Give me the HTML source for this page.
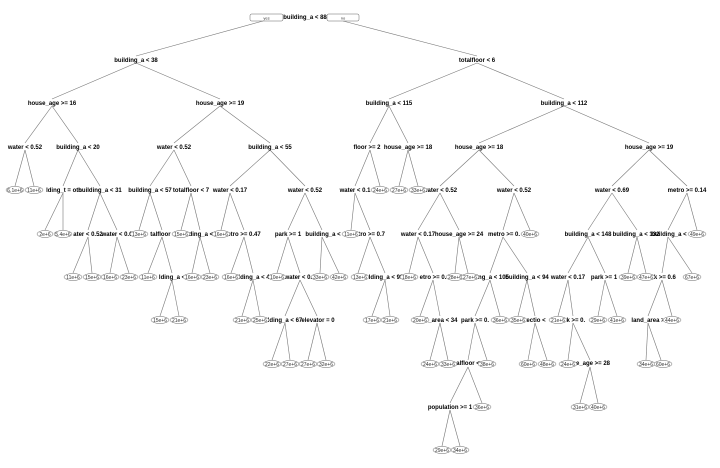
<!DOCTYPE html>
<html><head><meta charset="utf-8"><style>
html,body{margin:0;padding:0;background:#fff;width:720px;height:468px;overflow:hidden}
svg text{font-family:"Liberation Sans",sans-serif}
.n{font-size:6px;font-weight:bold;fill:#000;text-anchor:middle}
.l{font-size:5px;fill:#333;text-anchor:middle}
line{stroke:#777;stroke-width:0.6}
ellipse{fill:#fff;stroke:#666;stroke-width:0.5}
</style></head><body>
<svg width="720" height="468" viewBox="0 0 720 468" xmlns="http://www.w3.org/2000/svg">
<g>
<line x1="263" y1="21" x2="136" y2="56"/><line x1="343" y1="21" x2="477" y2="56"/>
<line x1="136" y1="63" x2="52" y2="99"/><line x1="136" y1="63" x2="220" y2="99"/>
<line x1="477" y1="63" x2="389" y2="99"/><line x1="477" y1="63" x2="564" y2="99"/>
<line x1="52" y1="106" x2="25" y2="143"/><line x1="52" y1="106" x2="78" y2="143"/>
<line x1="220" y1="106" x2="174" y2="143"/><line x1="220" y1="106" x2="270" y2="143"/>
<line x1="389" y1="106" x2="370" y2="143"/><line x1="389" y1="106" x2="408" y2="143"/>
<line x1="564" y1="106" x2="479" y2="143"/><line x1="564" y1="106" x2="649" y2="143"/>
<line x1="25" y1="150" x2="15" y2="186"/><line x1="25" y1="150" x2="34" y2="186"/>
<line x1="78" y1="150" x2="63" y2="186"/><line x1="78" y1="150" x2="100" y2="186"/>
<line x1="174" y1="150" x2="150" y2="186"/><line x1="174" y1="150" x2="191" y2="186"/>
<line x1="270" y1="150" x2="230" y2="186"/><line x1="270" y1="150" x2="305" y2="186"/>
<line x1="370" y1="150" x2="355" y2="186"/><line x1="370" y1="150" x2="380" y2="186"/>
<line x1="408" y1="150" x2="399" y2="186"/><line x1="408" y1="150" x2="418" y2="186"/>
<line x1="479" y1="150" x2="440" y2="186"/><line x1="479" y1="150" x2="514" y2="186"/>
<line x1="649" y1="150" x2="612" y2="186"/><line x1="649" y1="150" x2="687" y2="186"/>
<line x1="63" y1="193" x2="45" y2="230"/><line x1="63" y1="193" x2="63" y2="230"/>
<line x1="100" y1="193" x2="88" y2="230"/><line x1="100" y1="193" x2="117" y2="230"/>
<line x1="150" y1="193" x2="139" y2="230"/><line x1="150" y1="193" x2="162" y2="230"/>
<line x1="191" y1="193" x2="181" y2="230"/><line x1="191" y1="193" x2="200" y2="230"/>
<line x1="230" y1="193" x2="221" y2="230"/><line x1="230" y1="193" x2="244" y2="230"/>
<line x1="305" y1="193" x2="288" y2="230"/><line x1="305" y1="193" x2="322" y2="230"/>
<line x1="355" y1="193" x2="351" y2="230"/><line x1="355" y1="193" x2="370" y2="230"/>
<line x1="440" y1="193" x2="418" y2="230"/><line x1="440" y1="193" x2="459" y2="230"/>
<line x1="514" y1="193" x2="503" y2="230"/><line x1="514" y1="193" x2="530" y2="230"/>
<line x1="612" y1="193" x2="588" y2="230"/><line x1="612" y1="193" x2="637" y2="230"/>
<line x1="687" y1="193" x2="668" y2="230"/><line x1="687" y1="193" x2="697" y2="230"/>
<line x1="88" y1="237" x2="73" y2="273"/><line x1="88" y1="237" x2="92" y2="273"/>
<line x1="117" y1="237" x2="110" y2="273"/><line x1="117" y1="237" x2="129" y2="273"/>
<line x1="162" y1="237" x2="148" y2="273"/><line x1="162" y1="237" x2="172" y2="273"/>
<line x1="200" y1="237" x2="192" y2="273"/><line x1="200" y1="237" x2="210" y2="273"/>
<line x1="244" y1="237" x2="231" y2="273"/><line x1="244" y1="237" x2="253" y2="273"/>
<line x1="288" y1="237" x2="277" y2="273"/><line x1="288" y1="237" x2="300" y2="273"/>
<line x1="322" y1="237" x2="320" y2="273"/><line x1="322" y1="237" x2="339" y2="273"/>
<line x1="370" y1="237" x2="358" y2="273"/><line x1="370" y1="237" x2="385" y2="273"/>
<line x1="418" y1="237" x2="409" y2="273"/><line x1="418" y1="237" x2="433" y2="273"/>
<line x1="459" y1="237" x2="455" y2="273"/><line x1="459" y1="237" x2="468" y2="273"/>
<line x1="503" y1="237" x2="490" y2="273"/><line x1="503" y1="237" x2="527" y2="273"/>
<line x1="588" y1="237" x2="568" y2="273"/><line x1="588" y1="237" x2="605" y2="273"/>
<line x1="637" y1="237" x2="628" y2="273"/><line x1="637" y1="237" x2="646" y2="273"/>
<line x1="668" y1="237" x2="662" y2="273"/><line x1="668" y1="237" x2="692" y2="273"/>
<line x1="172" y1="280" x2="160" y2="316"/><line x1="172" y1="280" x2="179" y2="316"/>
<line x1="253" y1="280" x2="242" y2="316"/><line x1="253" y1="280" x2="260" y2="316"/>
<line x1="300" y1="280" x2="285" y2="316"/><line x1="300" y1="280" x2="317" y2="316"/>
<line x1="385" y1="280" x2="372" y2="316"/><line x1="385" y1="280" x2="390" y2="316"/>
<line x1="433" y1="280" x2="420" y2="316"/><line x1="433" y1="280" x2="440" y2="316"/>
<line x1="490" y1="280" x2="475" y2="316"/><line x1="490" y1="280" x2="500" y2="316"/>
<line x1="527" y1="280" x2="518" y2="316"/><line x1="527" y1="280" x2="535" y2="316"/>
<line x1="568" y1="280" x2="558" y2="316"/><line x1="568" y1="280" x2="573" y2="316"/>
<line x1="605" y1="280" x2="598" y2="316"/><line x1="605" y1="280" x2="617" y2="316"/>
<line x1="662" y1="280" x2="648" y2="316"/><line x1="662" y1="280" x2="672" y2="316"/>
<line x1="285" y1="323" x2="272" y2="360"/><line x1="285" y1="323" x2="290" y2="360"/>
<line x1="317" y1="323" x2="308" y2="360"/><line x1="317" y1="323" x2="326" y2="360"/>
<line x1="440" y1="323" x2="430" y2="360"/><line x1="440" y1="323" x2="448" y2="360"/>
<line x1="475" y1="323" x2="468" y2="360"/><line x1="475" y1="323" x2="487" y2="360"/>
<line x1="535" y1="323" x2="528" y2="360"/><line x1="535" y1="323" x2="547" y2="360"/>
<line x1="573" y1="323" x2="568" y2="360"/><line x1="573" y1="323" x2="590" y2="360"/>
<line x1="648" y1="323" x2="646" y2="360"/><line x1="648" y1="323" x2="661" y2="360"/>
<line x1="468" y1="367" x2="450" y2="403"/><line x1="468" y1="367" x2="482" y2="403"/>
<line x1="590" y1="367" x2="580" y2="403"/><line x1="590" y1="367" x2="598" y2="403"/>
<line x1="450" y1="410" x2="442" y2="446"/><line x1="450" y1="410" x2="460" y2="446"/>
</g>
<rect x="250" y="14" width="33" height="7" rx="1.5" fill="#fff" stroke="#666" stroke-width="0.5"/>
<text x="266.5" y="19.5" class="l" style="font-size:4px">yes</text>
<rect x="327" y="14" width="32" height="7" rx="1.5" fill="#fff" stroke="#666" stroke-width="0.5"/>
<text x="343" y="19.5" class="l" style="font-size:4px">no</text>
<g>
<text x="305" y="19" class="n">building_a &lt; 88</text>
<text x="136" y="62" class="n">building_a &lt; 38</text>
<text x="477" y="62" class="n">totalfloor &lt; 6</text>
<text x="52" y="105" class="n">house_age &gt;= 16</text>
<text x="220" y="105" class="n">house_age &gt;= 19</text>
<text x="389" y="105" class="n">building_a &lt; 115</text>
<text x="564" y="105" class="n">building_a &lt; 112</text>
<text x="25" y="149" class="n">water &lt; 0.52</text>
<text x="78" y="149" class="n">building_a &lt; 20</text>
<text x="174" y="149" class="n">water &lt; 0.52</text>
<text x="270" y="149" class="n">building_a &lt; 55</text>
<text x="367" y="149" class="n">floor &gt;= 2</text>
<text x="408" y="149" class="n">house_age &gt;= 18</text>
<text x="479" y="149" class="n">house_age &gt;= 18</text>
<text x="649" y="149" class="n">house_age &gt;= 19</text>
<text x="64" y="192" class="n">lding_t = oth</text>
<text x="100" y="192" class="n">building_a &lt; 31</text>
<text x="150" y="192" class="n">building_a &lt; 57</text>
<text x="191" y="192" class="n">totalfloor &lt; 7</text>
<text x="230" y="192" class="n">water &lt; 0.17</text>
<text x="305" y="192" class="n">water &lt; 0.52</text>
<text x="355" y="192" class="n">water &lt; 0.1</text>
<text x="440" y="192" class="n">water &lt; 0.52</text>
<text x="514" y="192" class="n">water &lt; 0.52</text>
<text x="612" y="192" class="n">water &lt; 0.69</text>
<text x="687" y="192" class="n">metro &gt;= 0.14</text>
<text x="88" y="236" class="n">ater &lt; 0.52</text>
<text x="117" y="236" class="n">water &lt; 0.6</text>
<text x="163" y="236" class="n">talfloor &lt;</text>
<text x="200" y="236" class="n">lding_a &lt;</text>
<text x="244" y="236" class="n">etro &gt;= 0.47</text>
<text x="288" y="236" class="n">park &gt;= 1</text>
<text x="323" y="236" class="n">building_a &lt;</text>
<text x="370" y="236" class="n">etro &gt;= 0.7</text>
<text x="418" y="236" class="n">water &lt; 0.17</text>
<text x="459" y="236" class="n">house_age &gt;= 24</text>
<text x="504" y="236" class="n">metro &gt;= 0.</text>
<text x="588" y="236" class="n">building_a &lt; 148</text>
<text x="636" y="236" class="n">building_a &lt; 132</text>
<text x="669" y="236" class="n">building_a &lt;</text>
<text x="172" y="279" class="n">lding_a &lt;</text>
<text x="254" y="279" class="n">lding_a &lt; 4</text>
<text x="300" y="279" class="n">water &lt; 0.2</text>
<text x="386" y="279" class="n">lding_a &lt; 99</text>
<text x="433" y="279" class="n">etro &gt;= 0.</text>
<text x="490" y="279" class="n">lding_a &lt; 105</text>
<text x="527" y="279" class="n">building_a &lt; 94</text>
<text x="568" y="279" class="n">water &lt; 0.17</text>
<text x="604" y="279" class="n">park &gt;= 1</text>
<text x="662" y="279" class="n">ark &gt;= 0.6</text>
<text x="285" y="322" class="n">lding_a &lt; 67</text>
<text x="318" y="322" class="n">elevator = 0</text>
<text x="441" y="322" class="n">d_area &lt; 34</text>
<text x="475" y="322" class="n">park &gt;= 0.</text>
<text x="536" y="322" class="n">ectio &lt;</text>
<text x="573" y="322" class="n">ark &gt;= 0.</text>
<text x="648" y="322" class="n">land_area &gt;</text>
<text x="468" y="365" class="n">alfloor &lt;</text>
<text x="593" y="365" class="n">e_age &gt;= 28</text>
<text x="450" y="409" class="n">population &gt;= 1</text>
</g>
<g>
<ellipse cx="15" cy="190" rx="9" ry="3.5"/><text x="15" y="191.8" class="l">6.1e+6</text>
<ellipse cx="34" cy="190" rx="9" ry="3.5"/><text x="34" y="191.8" class="l">11e+6</text>
<ellipse cx="380" cy="190" rx="9" ry="3.5"/><text x="380" y="191.8" class="l">24e+6</text>
<ellipse cx="399" cy="190" rx="9" ry="3.5"/><text x="399" y="191.8" class="l">27e+6</text>
<ellipse cx="418" cy="190" rx="9" ry="3.5"/><text x="418" y="191.8" class="l">33e+6</text>
<ellipse cx="45" cy="234" rx="8" ry="3.5"/><text x="45" y="235.8" class="l">2e+6</text>
<ellipse cx="63" cy="234" rx="9" ry="3.5"/><text x="63" y="235.8" class="l">5.4e+6</text>
<ellipse cx="139" cy="234" rx="9" ry="3.5"/><text x="139" y="235.8" class="l">13e+6</text>
<ellipse cx="181" cy="234" rx="9" ry="3.5"/><text x="181" y="235.8" class="l">15e+6</text>
<ellipse cx="221" cy="234" rx="9" ry="3.5"/><text x="221" y="235.8" class="l">16e+6</text>
<ellipse cx="351" cy="234" rx="9" ry="3.5"/><text x="351" y="235.8" class="l">11e+6</text>
<ellipse cx="530" cy="234" rx="9" ry="3.5"/><text x="530" y="235.8" class="l">40e+6</text>
<ellipse cx="697" cy="234" rx="9" ry="3.5"/><text x="697" y="235.8" class="l">49e+6</text>
<ellipse cx="73" cy="277" rx="9" ry="3.5"/><text x="73" y="278.8" class="l">11e+6</text>
<ellipse cx="92" cy="277" rx="9" ry="3.5"/><text x="92" y="278.8" class="l">15e+6</text>
<ellipse cx="110" cy="277" rx="9" ry="3.5"/><text x="110" y="278.8" class="l">16e+6</text>
<ellipse cx="129" cy="277" rx="9" ry="3.5"/><text x="129" y="278.8" class="l">23e+6</text>
<ellipse cx="148" cy="277" rx="9" ry="3.5"/><text x="148" y="278.8" class="l">11e+6</text>
<ellipse cx="192" cy="277" rx="9" ry="3.5"/><text x="192" y="278.8" class="l">16e+6</text>
<ellipse cx="210" cy="277" rx="9" ry="3.5"/><text x="210" y="278.8" class="l">23e+6</text>
<ellipse cx="231" cy="277" rx="9" ry="3.5"/><text x="231" y="278.8" class="l">16e+6</text>
<ellipse cx="277" cy="277" rx="9" ry="3.5"/><text x="277" y="278.8" class="l">10e+6</text>
<ellipse cx="320" cy="277" rx="9" ry="3.5"/><text x="320" y="278.8" class="l">33e+6</text>
<ellipse cx="339" cy="277" rx="9" ry="3.5"/><text x="339" y="278.8" class="l">42e+6</text>
<ellipse cx="360" cy="277" rx="9" ry="3.5"/><text x="360" y="278.8" class="l">13e+6</text>
<ellipse cx="409" cy="277" rx="9" ry="3.5"/><text x="409" y="278.8" class="l">18e+6</text>
<ellipse cx="455" cy="277" rx="9" ry="3.5"/><text x="455" y="278.8" class="l">28e+6</text>
<ellipse cx="470" cy="277" rx="9" ry="3.5"/><text x="470" y="278.8" class="l">27e+6</text>
<ellipse cx="628" cy="277" rx="9" ry="3.5"/><text x="628" y="278.8" class="l">39e+6</text>
<ellipse cx="646" cy="277" rx="9" ry="3.5"/><text x="646" y="278.8" class="l">47e+6</text>
<ellipse cx="692" cy="277" rx="9" ry="3.5"/><text x="692" y="278.8" class="l">67e+6</text>
<ellipse cx="160" cy="320" rx="9" ry="3.5"/><text x="160" y="321.8" class="l">15e+6</text>
<ellipse cx="179" cy="320" rx="9" ry="3.5"/><text x="179" y="321.8" class="l">21e+6</text>
<ellipse cx="242" cy="320" rx="9" ry="3.5"/><text x="242" y="321.8" class="l">21e+6</text>
<ellipse cx="260" cy="320" rx="9" ry="3.5"/><text x="260" y="321.8" class="l">25e+6</text>
<ellipse cx="372" cy="320" rx="9" ry="3.5"/><text x="372" y="321.8" class="l">17e+6</text>
<ellipse cx="390" cy="320" rx="9" ry="3.5"/><text x="390" y="321.8" class="l">21e+6</text>
<ellipse cx="420" cy="320" rx="9" ry="3.5"/><text x="420" y="321.8" class="l">20e+6</text>
<ellipse cx="500" cy="320" rx="9" ry="3.5"/><text x="500" y="321.8" class="l">36e+6</text>
<ellipse cx="518" cy="320" rx="9" ry="3.5"/><text x="518" y="321.8" class="l">35e+6</text>
<ellipse cx="558" cy="320" rx="9" ry="3.5"/><text x="558" y="321.8" class="l">21e+6</text>
<ellipse cx="598" cy="320" rx="9" ry="3.5"/><text x="598" y="321.8" class="l">29e+6</text>
<ellipse cx="617" cy="320" rx="9" ry="3.5"/><text x="617" y="321.8" class="l">41e+6</text>
<ellipse cx="672" cy="320" rx="9" ry="3.5"/><text x="672" y="321.8" class="l">44e+6</text>
<ellipse cx="272" cy="364" rx="9" ry="3.5"/><text x="272" y="365.8" class="l">22e+6</text>
<ellipse cx="290" cy="364" rx="9" ry="3.5"/><text x="290" y="365.8" class="l">27e+6</text>
<ellipse cx="308" cy="364" rx="9" ry="3.5"/><text x="308" y="365.8" class="l">27e+6</text>
<ellipse cx="326" cy="364" rx="9" ry="3.5"/><text x="326" y="365.8" class="l">32e+6</text>
<ellipse cx="430" cy="364" rx="9" ry="3.5"/><text x="430" y="365.8" class="l">24e+6</text>
<ellipse cx="448" cy="364" rx="9" ry="3.5"/><text x="448" y="365.8" class="l">33e+6</text>
<ellipse cx="487" cy="364" rx="9" ry="3.5"/><text x="487" y="365.8" class="l">38e+6</text>
<ellipse cx="528" cy="364" rx="9" ry="3.5"/><text x="528" y="365.8" class="l">60e+6</text>
<ellipse cx="547" cy="364" rx="9" ry="3.5"/><text x="547" y="365.8" class="l">48e+6</text>
<ellipse cx="568" cy="364" rx="9" ry="3.5"/><text x="568" y="365.8" class="l">24e+6</text>
<ellipse cx="646" cy="364" rx="9" ry="3.5"/><text x="646" y="365.8" class="l">34e+6</text>
<ellipse cx="663" cy="364" rx="9" ry="3.5"/><text x="663" y="365.8" class="l">60e+6</text>
<ellipse cx="482" cy="407" rx="9" ry="3.5"/><text x="482" y="408.8" class="l">36e+6</text>
<ellipse cx="580" cy="407" rx="9" ry="3.5"/><text x="580" y="408.8" class="l">31e+6</text>
<ellipse cx="598" cy="407" rx="9" ry="3.5"/><text x="598" y="408.8" class="l">40e+6</text>
<ellipse cx="442" cy="450" rx="9" ry="3.5"/><text x="442" y="451.8" class="l">29e+6</text>
<ellipse cx="460" cy="450" rx="9" ry="3.5"/><text x="460" y="451.8" class="l">34e+6</text>
</g>
</svg>
</body></html>
